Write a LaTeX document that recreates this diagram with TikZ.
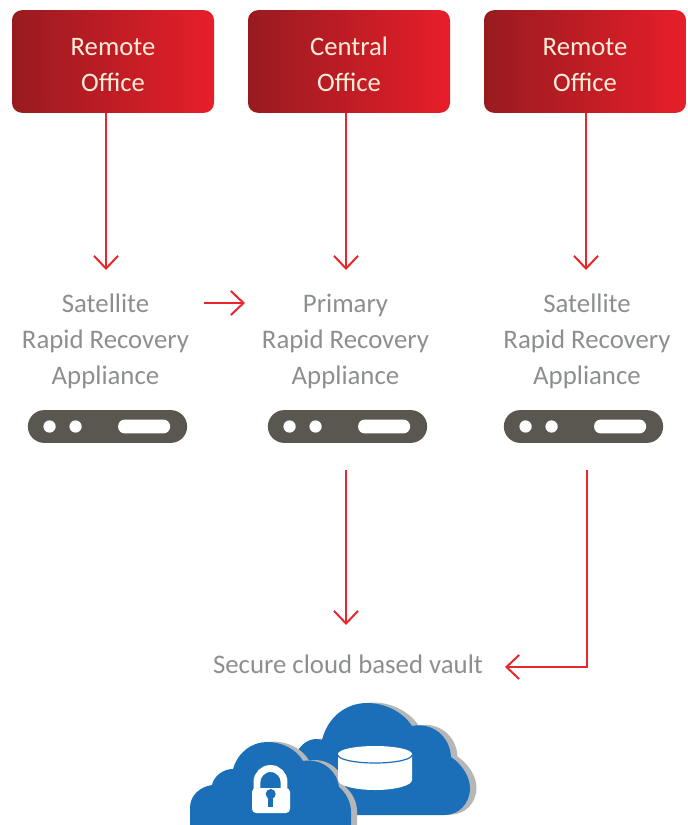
\documentclass[tikz,border=0pt]{standalone}
\usepackage{fontspec}
\setmainfont{Carlito}
\usetikzlibrary{arrows.meta}
\definecolor{fjred}{HTML}{E8272D}
\definecolor{fjdark}{HTML}{981B20}
\definecolor{fjlight}{HTML}{E71E2A}
\definecolor{fjtext}{HTML}{8C8E90}
\definecolor{fjbar}{HTML}{59574F}
\definecolor{fjblue}{HTML}{1B6FB9}
\definecolor{fjgrey}{HTML}{B4B6B8}
\tikzset{
  office/.style={rounded corners=7.5pt,left color=fjdark,right color=fjlight,minimum width=151.5pt,minimum height=77pt,
    align=center,text=white!85!orange,font=\fontsize{20}{27}\selectfont},
  label/.style={align=center,text=fjtext,font=\fontsize{20.1}{27}\selectfont},
  serverbar/.style={fill=fjbar,rounded corners=12.3pt,minimum width=119.5pt,minimum height=24.6pt,inner sep=0pt},
  flow/.style={draw=fjred,line width=1.5pt,-{Straight Barb[length=9.5pt,width=18pt,line width=1.5pt]}}
}
% two lines of an office box, set a little low
\newcommand{\officelines}[2]{\rule{0pt}{18pt}#1\\#2}
% one appliance: bar with two lights and a slot
\newcommand{\serverdots}[1]{
  \fill[white] ([xshift=16.5pt]#1.west) circle (4.6pt);
  \fill[white] ([xshift=36pt]#1.west) circle (4.6pt);
  \fill[white,rounded corners=5pt] ([xshift=-13pt,yshift=-5.2pt]#1.east) rectangle ([xshift=-52pt,yshift=5.2pt]#1.east);
}
\newcommand{\rightcloud}{
  \fill (297,752) .. controls (303,741) and (313,737) .. (322,740)
    .. controls (328,716) and (347,703) .. (367,703)
    .. controls (385,703) and (403,712) .. (412,726)
    .. controls (432,722) and (450,736) .. (451,757)
    .. controls (463,765) and (470,778) .. (470,788)
    .. controls (470,804) and (458,815) .. (445,815)
    -- (330,815) -- cycle;
}
\newcommand{\leftcloud}{
  \fill (190,830) -- (190,808) .. controls (190,796) and (199,787) .. (212,785)
    .. controls (214,776) and (223,769) .. (233,769)
    .. controls (238,752) and (252,742) .. (267,742)
    .. controls (282,742) and (296,749) .. (303,761)
    .. controls (321,758) and (337,770) .. (339,787)
    .. controls (346,793) and (351,802) .. (351,812)
    -- (351,830) -- cycle;
}
\begin{document}
\begin{tikzpicture}[x=0.75pt,y=-0.75pt]
  \useasboundingbox (0,0) rectangle (688,825);
  \clip (0,0) rectangle (688,825);

  \node[office] (remoteA) at (113,61.5) {\officelines{Remote}{Office}};
  \node[office] (central) at (349,61.5) {\officelines{Central}{Office}};
  \node[office] (remoteB) at (585,61.5) {\officelines{Remote}{Office}};

  \node[label] (satelliteA) at (105.5,341) {Satellite\\Rapid Recovery\\Appliance};
  \node[label] (primary) at (345.5,341) {Primary\\Rapid Recovery\\Appliance};
  \node[label] (satelliteB) at (587,341) {Satellite\\Rapid Recovery\\Appliance};

  \node[serverbar] (serverA) at (107.5,426.5) {};
  \node[serverbar] (serverB) at (347.5,426.5) {};
  \node[serverbar] (serverC) at (583.5,426.5) {};
  \serverdots{serverA}
  \serverdots{serverB}
  \serverdots{serverC}

  \node[label] (vault) at (348,664.5) {Secure cloud based vault};

  \coordinate (inA) at (106,270);
  \coordinate (inB) at (346,270);
  \coordinate (inC) at (586,270);
  \coordinate (linkA) at (204,303);
  \coordinate (linkB) at (245,303);
  \coordinate (outB) at (346,470);
  \coordinate (endB) at (346,625);
  \coordinate (outC) at (587,470);
  \coordinate (endC) at (505,667);

  \draw[flow] (inA |- remoteA.south) -- (inA);
  \draw[flow] (inB |- central.south) -- (inB);
  \draw[flow] (inC |- remoteB.south) -- (inC);
  \draw[flow] (linkA) -- (linkB);
  \draw[flow] (outB) -- (endB);
  \draw[flow] (outC) |- (endC);

  \begin{scope}[fjgrey,shift={(6.5,-0.5)}]
    \rightcloud
  \end{scope}
  \begin{scope}[fjblue]
    \rightcloud
  \end{scope}
  \begin{scope}[fjgrey,shift={(6,-0.5)}]
    \leftcloud
  \end{scope}
  \begin{scope}[fjblue]
    \leftcloud
  \end{scope}

  % disk
  \fill[white] (338,754) -- (338,780) arc[start angle=180,end angle=0,x radius=37,y radius=10] -- (412,754) arc[start angle=0,end angle=-180,x radius=37,y radius=8] -- cycle;
  \draw[fjblue,line width=0.9pt] (338,755) arc[start angle=180,end angle=0,x radius=37,y radius=8];

  % lock
  \fill[white,rounded corners=3pt] (252,788) rectangle (290,813);
  \draw[white,line width=5.2pt] (257,790) -- (257,782) arc[start angle=180,end angle=360,x radius=13.5,y radius=13.5] -- (284,790);
  \fill[fjblue] (270.7,794) circle (5);
  \fill[fjblue] (268.2,795) rectangle (273.2,807);
\end{tikzpicture}
\end{document}
